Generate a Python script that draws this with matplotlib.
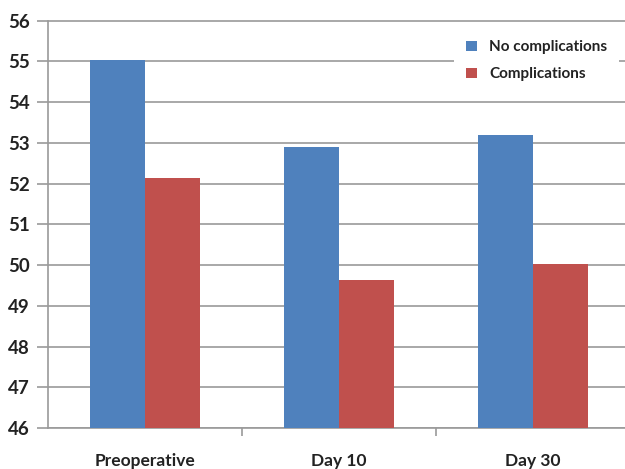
import matplotlib.pyplot as plt
import numpy as np

categories = ["Preoperative", "Day 10", "Day 30"]
no_complications = [55.03, 52.9, 53.2]
complications = [52.13, 49.63, 50.03]
yticks = list(range(46, 57))

plt.rcParams['font.family'] = ['Lato', 'DejaVu Sans']

fig = plt.figure(figsize=(6.25, 4.69), dpi=100)
ax = fig.add_axes([48/625, 41/469, 582/625, 407.5/469])

x = np.arange(len(categories))
w = 0.283
ax.bar(x - w/2, no_complications, w, color='#4F81BD', label='No complications', zorder=3)
ax.bar(x + w/2, complications, w, color='#C0504D', label='Complications', zorder=3)

ax.set_xlim(-0.5, 2.5)
ax.set_ylim(46, 56)
ax.set_yticks(yticks)
ax.set_yticklabels([str(t) for t in yticks], fontsize=13.5, fontweight='bold', color='#222222')
ax.yaxis.grid(True, color='#9a9a9a', linewidth=1.2, zorder=0)
ax.tick_params(axis='y', length=8, color='#9a9a9a', width=1.2, pad=5)

ax.set_xticks(x)
ax.set_xticklabels(categories, fontsize=12.5, fontweight='bold', color='#222222')
ax.set_xticks([0.5, 1.5], minor=True)
ax.tick_params(axis='x', which='major', length=0, pad=18)
ax.tick_params(axis='x', which='minor', length=6, color='#9a9a9a', width=1.2)

for s in ['top', 'right']:
    ax.spines[s].set_visible(False)
for s in ['left', 'bottom']:
    ax.spines[s].set_color('#9a9a9a')
    ax.spines[s].set_linewidth(1.2)

leg = ax.legend(loc='upper right', bbox_to_anchor=(0.995, 1.0), frameon=True,
                prop={'size': 11, 'weight': 'bold'},
                handlelength=0.7, handleheight=0.7, handletextpad=0.8, labelspacing=0.85,
                borderpad=0.8)
leg.get_frame().set_edgecolor('none')
leg.get_frame().set_facecolor('white')
leg.get_frame().set_alpha(1)
for t in leg.get_texts():
    t.set_color('#222222')

fig.savefig('out.png', dpi=100)
